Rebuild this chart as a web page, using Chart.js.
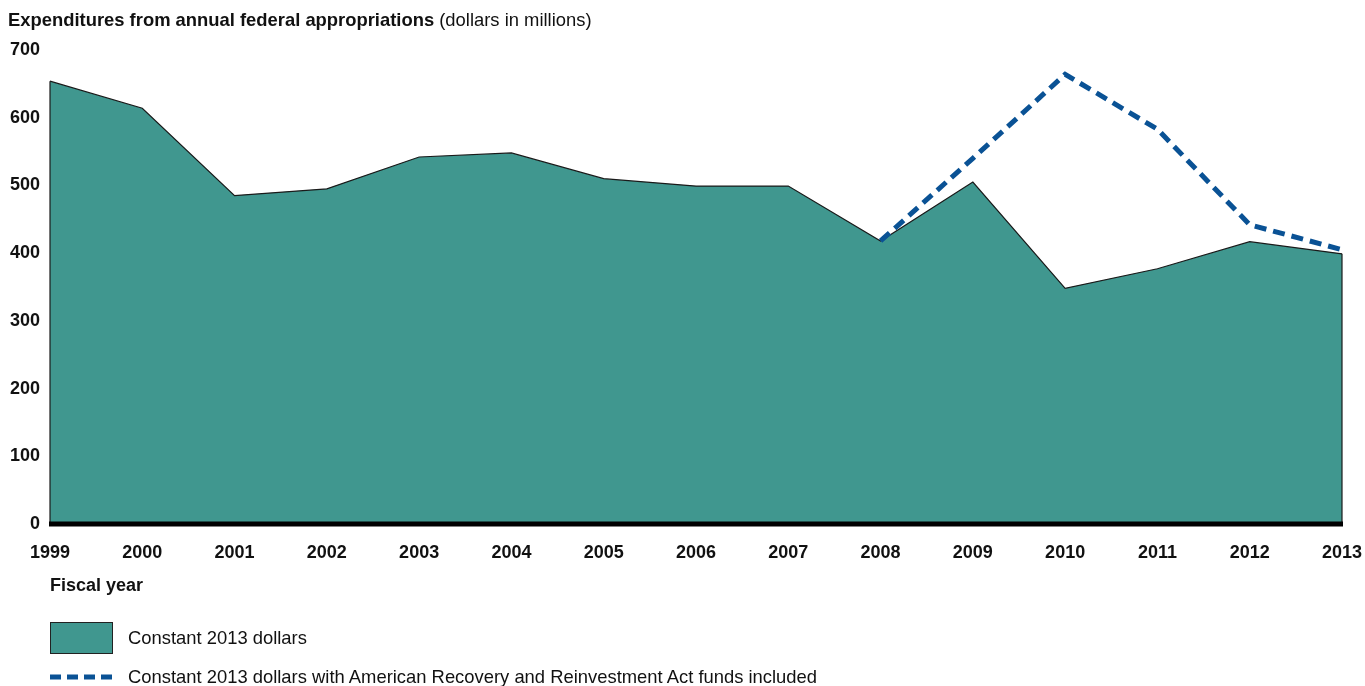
<!DOCTYPE html>
<html lang="en">
<head>
<meta charset="UTF-8">
<title>Expenditures from annual federal appropriations</title>
<script src="https://cdn.jsdelivr.net/npm/chart.js"></script>
<style>
  body { margin: 0; width: 1365px; height: 686px; overflow: hidden; background: #fff;
         font-family: "Liberation Sans", Arial, sans-serif; color: #111; }
  #chart { position: absolute; left: 0; top: 0; }
  .txt { position: absolute; white-space: nowrap; line-height: 1; }
  #title { left: 8px; top: 11px; font-size: 18.4px; }
  #title b { font-weight: bold; }
  #xtitle { left: 50px; top: 576px; font-size: 18px; font-weight: bold; }
  .leg { position: absolute; left: 50px; }
  #legBox { top: 622px; width: 61px; height: 30px; background: #40978f; border: 1px solid #222; }
  #legLine { top: 672px; }
  #legText1 { left: 128px; top: 629px; font-size: 18.4px; }
  #legText2 { left: 128px; top: 668px; font-size: 18.4px; }
</style>
</head>
<body>
<canvas id="chart" width="1365" height="686"></canvas>
<div class="txt" id="title"><b>Expenditures from annual federal appropriations</b> (dollars in millions)</div>
<div class="txt" id="xtitle">Fiscal year</div>
<div class="leg" id="legBox"></div>
<svg class="leg" id="legLine" width="64" height="10"><line x1="0" y1="5" x2="64" y2="5" stroke="#0a5295" stroke-width="5" stroke-dasharray="11,6"/></svg>
<div class="txt" id="legText1">Constant 2013 dollars</div>
<div class="txt" id="legText2">Constant 2013 dollars with American Recovery and Reinvestment Act funds included</div>

<script>
const years = ['1999', '2000', '2001', '2002', '2003', '2004', '2005', '2006', '2007', '2008', '2009', '2010', '2011', '2012', '2013'];
const constantDollars = [654, 614, 485, 495, 542, 548, 510, 499, 499, 418, 505, 348, 377, 417, 399];
const withRecovery = [null, null, null, null, null, null, null, null, null, 418, 540, 664, 583, 442, 405];
const yTicks = [0, 100, 200, 300, 400, 500, 600, 700];

// thin black edges on the sides of the filled area, thick black baseline at zero
const areaEdges = {
    id: 'areaEdges',
    afterDatasetsDraw(chart) {
        const pts = chart.getDatasetMeta(1).data;
        const bottom = chart.scales.y.getPixelForValue(0);
        const ctx = chart.ctx;
        ctx.save();
        ctx.strokeStyle = '#1a1a1a';
        ctx.lineWidth = 1.2;
        [pts[0], pts[pts.length - 1]].forEach(p => {
            ctx.beginPath();
            ctx.moveTo(p.x, p.y);
            ctx.lineTo(p.x, bottom);
            ctx.stroke();
        });
        ctx.strokeStyle = '#000';
        ctx.lineWidth = 5;
        ctx.beginPath();
        ctx.moveTo(chart.chartArea.left - 1, bottom);
        ctx.lineTo(chart.chartArea.right + 1, bottom);
        ctx.stroke();
        ctx.restore();
    }
};

const ctx = document.getElementById('chart').getContext('2d');
new Chart(ctx, {
    type: 'line',
    data: {
        labels: years,
        datasets: [{
            label: 'Constant 2013 dollars with American Recovery and Reinvestment Act funds included',
            data: withRecovery,
            borderColor: '#0a5295',
            borderWidth: 5,
            borderDash: [12, 7],
            fill: false,
            pointRadius: 0,
            tension: 0,
            order: 0
        }, {
            label: 'Constant 2013 dollars',
            data: constantDollars,
            borderColor: '#1a1a1a',
            borderWidth: 1.2,
            backgroundColor: '#40978f',
            fill: 'origin',
            pointRadius: 0,
            tension: 0,
            order: 1
        }]
    },
    options: {
        responsive: false,
        animation: false,
        layout: { padding: { top: 50, right: 23, bottom: 0, left: 0 } },
        plugins: { legend: { display: false }, title: { display: false }, tooltip: { enabled: false } },
        scales: {
            x: {
                grid: { display: false, drawTicks: false },
                border: { display: false },
                ticks: {
                    autoSkip: false, maxRotation: 0, padding: 18, color: '#111',
                    font: { family: 'Liberation Sans', size: 18, weight: 'bold' }
                },
                afterFit(scale) {
                    scale.height = 162;
                    scale.paddingLeft = 0;
                    scale.paddingRight = 0;
                }
            },
            y: {
                min: 0, max: 700,
                grid: { display: false, drawTicks: false },
                border: { display: false },
                afterBuildTicks(scale) { scale.ticks = yTicks.map(v => ({ value: v })); },
                ticks: {
                    padding: 10, color: '#111',
                    font: { family: 'Liberation Sans', size: 18, weight: 'bold' }
                },
                afterFit(scale) { scale.width = 50; }
            }
        }
    },
    plugins: [areaEdges]
});
</script>
</body>
</html>
